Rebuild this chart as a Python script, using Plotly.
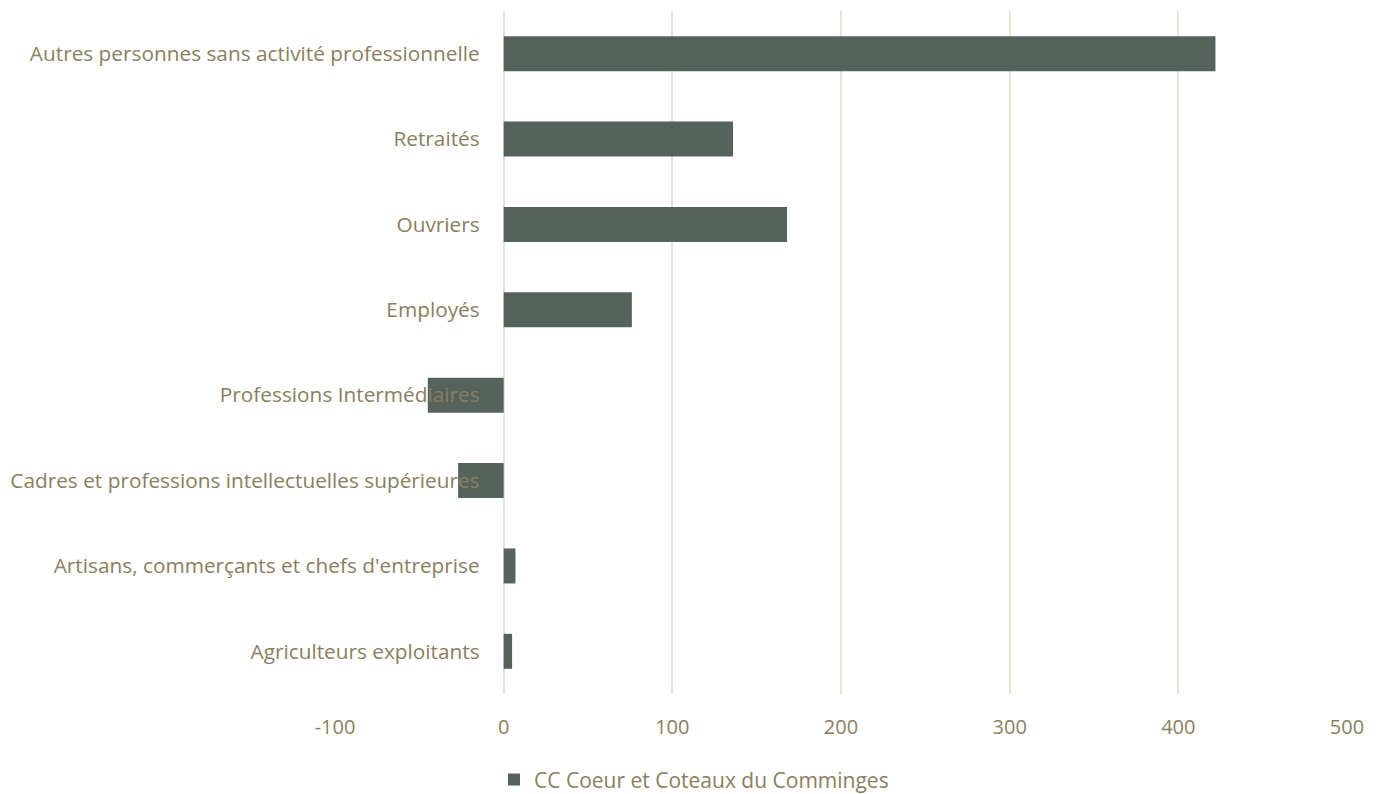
import plotly.graph_objects as go

categories = [
    'Agriculteurs exploitants',
    "Artisans, commerçants et chefs d'entreprise",
    'Cadres et professions intellectuelles supérieures',
    'Professions Intermédiaires',
    'Employés',
    'Ouvriers',
    'Retraités',
    'Autres personnes sans activité professionnelle',
]
values = [5, 7, -27, -45, 76, 168, 136, 422]
series_name = 'CC Coeur et Coteaux du Comminges'
x_ticks = [-100, 0, 100, 200, 300, 400, 500]

text_color = '#8A7E5E'
bar_color = '#56635D'
grid_color = '#E6E2DA'

fig = go.Figure()

fig.add_trace(
    go.Bar(
        y=categories,
        x=values,
        orientation='h',
        name=series_name,
        marker_color=bar_color,
        marker_line_width=0,
        showlegend=True,
    )
)

# y axis sits on the zero line, labels drawn over the plot
zero_pos = (0 - (-100)) / 600

fig.update_yaxes(
    anchor='free',
    position=zero_pos,
    showgrid=False,
    showline=False,
    ticks='',
    ticklabelstandoff=24,
    tickfont=dict(color=text_color, size=20.8),
)

fig.update_xaxes(
    range=[-100, 500],
    tickvals=x_ticks,
    ticktext=[str(v) for v in x_ticks],
    showgrid=True,
    gridcolor=grid_color,
    gridwidth=2,
    zeroline=True,
    zerolinecolor=grid_color,
    zerolinewidth=2,
    showline=False,
    ticks='',
    ticklabelstandoff=19,
    tickfont=dict(color=text_color, size=20),
)

# page body has an 8px margin, so the figure is a little smaller
fig.update_layout(
    width=1372,
    height=786,
    paper_bgcolor='white',
    plot_bgcolor='white',
    bargap=0.59,
    font_family='Open Sans',
    margin=dict(l=327, r=33, t=3, b=100),
    legend=dict(
        orientation='h',
        xref='container',
        yref='container',
        x=0.5,
        y=0.018,
        xanchor='center',
        yanchor='middle',
        font=dict(color=text_color, size=21),
        itemwidth=30,
    ),
)

fig.write_html('out.html')
